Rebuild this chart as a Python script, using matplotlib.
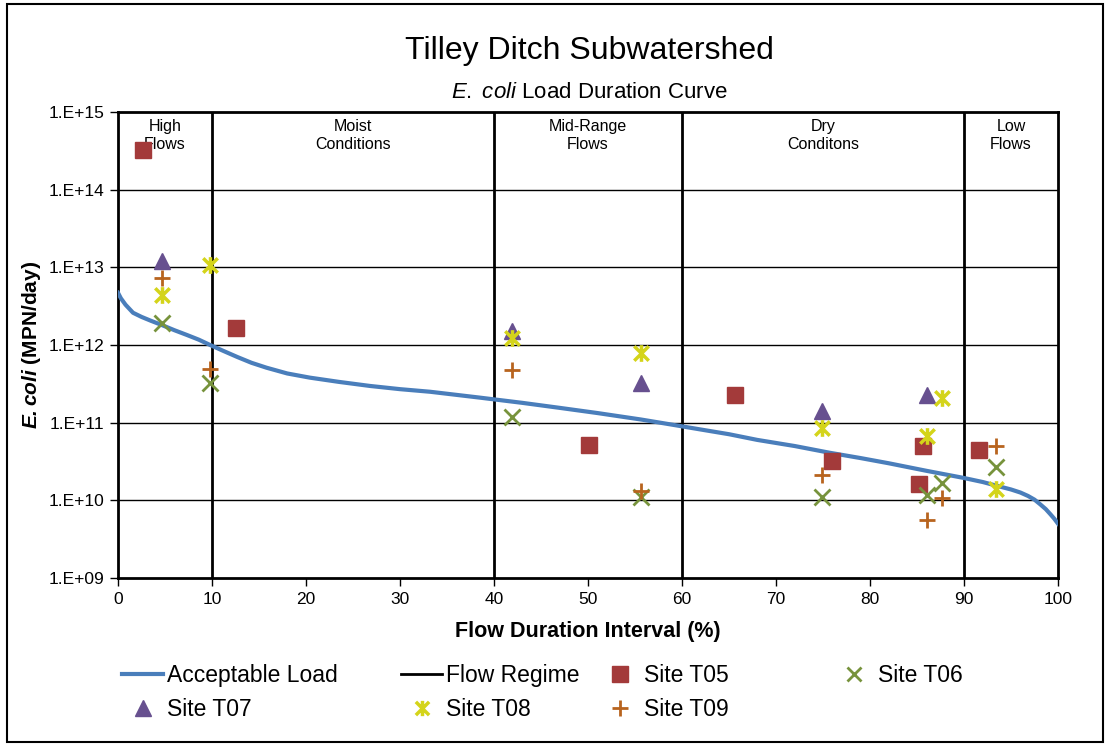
import matplotlib
matplotlib.use('Agg')

import numpy as np
import matplotlib.pyplot as plt
from matplotlib.lines import Line2D
from matplotlib.patches import Rectangle
from matplotlib.path import Path

plt.rcParams['font.family'] = ['Liberation Sans', 'DejaVu Sans']
plt.rcParams['mathtext.fontset'] = 'custom'
plt.rcParams['mathtext.rm'] = 'Liberation Sans'
plt.rcParams['mathtext.it'] = 'Liberation Sans:italic'
plt.rcParams['mathtext.bf'] = 'Liberation Sans:bold'
plt.rcParams['mathtext.bfit'] = 'Liberation Sans:bold:italic'

# acceptable load curve
curve_x = [0, 0.3, 0.8, 1.6, 2.5, 3.5, 4.7, 6.0, 7.3, 8.6, 9.8, 11.2, 12.7, 14.2, 15.8,
           18.0, 20.4, 23.5, 26.8, 30.0, 33.2, 38.5, 43, 47, 51, 55.6, 59, 61.9, 65,
           68, 72, 75.7, 79, 82, 86, 89.9, 92, 93.4, 95, 96, 96.8, 97.5, 98.1, 98.7,
           99.2, 99.6, 100]
curve_y = [4.7e12, 4.0e12, 3.3e12, 2.6e12, 2.3e12, 2.05e12, 1.8e12, 1.55e12, 1.35e12,
           1.17e12, 1.0e12, 8.4e11, 7.0e11, 5.9e11, 5.1e11, 4.3e11, 3.8e11, 3.35e11,
           2.97e11, 2.7e11, 2.5e11, 2.1e11, 1.8e11, 1.55e11, 1.33e11, 1.1e11, 9.4e10,
           8.2e10, 7.1e10, 6.0e10, 5.0e10, 4.1e10, 3.5e10, 3.0e10, 2.4e10, 1.95e10,
           1.72e10, 1.55e10, 1.38e10, 1.26e10, 1.14e10, 1.02e10, 8.9e9, 7.7e9,
           6.6e9, 5.8e9, 5.0e9]

regime_x = [10, 40, 60, 90]
regime_labels = ['High\nFlows', 'Moist\nConditions', 'Mid-Range\nFlows', 'Dry\nConditons', 'Low\nFlows']
regime_label_x = [5, 25, 50, 75, 95]

t05_x = [2.7, 12.5, 50.1, 65.6, 76.0, 85.6, 85.2, 91.6]
t05_y = [3.2e14, 1.66e12, 5.2e10, 2.3e11, 3.2e10, 5.0e10, 1.63e10, 4.5e10]

t06_x = [4.7, 9.8, 41.9, 55.6, 74.9, 86.1, 87.7, 93.4]
t06_y = [1.9e12, 3.2e11, 1.17e11, 1.1e10, 1.1e10, 1.17e10, 1.66e10, 2.7e10]

t07_x = [4.7, 41.9, 55.6, 74.9, 86.1]
t07_y = [1.2e13, 1.5e12, 3.2e11, 1.4e11, 2.3e11]

t08_x = [4.7, 9.8, 41.9, 55.6, 74.9, 86.1, 87.7, 93.4]
t08_y = [4.4e12, 1.07e13, 1.23e12, 7.8e11, 8.6e10, 6.8e10, 2.1e11, 1.4e10]

t09_x = [4.7, 9.8, 41.9, 55.6, 74.9, 86.1, 87.7, 93.4]
t09_y = [7.3e12, 4.9e11, 4.8e11, 1.3e10, 2.1e10, 5.6e9, 1.07e10, 5.0e10]

# excel style star: an x with a vertical bar
star = Path([(-1, -1), (1, 1), (-1, 1), (1, -1), (0, -1.15), (0, 1.15)],
            [Path.MOVETO, Path.LINETO, Path.MOVETO, Path.LINETO, Path.MOVETO, Path.LINETO])

c_al = '#4A7EBB'
c05 = '#A33A3A'
c06 = '#77933C'
c07 = '#67508F'
c08 = '#D4D41A'
c09 = '#B8641E'

fig = plt.figure(figsize=(11.08, 7.44), dpi=100)
ax = fig.add_axes([0.1065, 0.2231, 0.8484, 0.6264])

ax.set_yscale('log')
ax.set_xlim(0, 100)
ax.set_ylim(1e9, 1e15)

for d in range(10, 15):
    ax.axhline(10.0 ** d, color='black', lw=1.0, zorder=1)
for xv in regime_x:
    ax.axvline(xv, color='black', lw=2.0, zorder=2)
for xv, lab in zip(regime_label_x, regime_labels):
    ax.text(xv, 8.0e14, lab, ha='center', va='top', fontsize=11.5, linespacing=1.25, zorder=3)

ax.plot(curve_x, curve_y, color=c_al, lw=3.0, zorder=3)

ax.plot(t05_x, t05_y, 's', color=c05, ms=11, ls='none', zorder=4)
ax.plot(t06_x, t06_y, 'x', color=c06, ms=11, mew=2.0, ls='none', zorder=4)
ax.plot(t07_x, t07_y, '^', color=c07, ms=12, ls='none', zorder=4)
ax.plot(t08_x, t08_y, marker=star, color=c08, mfc='none', ms=12, mew=2.5, ls='none', zorder=4)
ax.plot(t09_x, t09_y, '+', color=c09, ms=11, mew=2.0, ls='none', zorder=4)

for s in ax.spines.values():
    s.set_linewidth(2.0)
    s.set_color('black')

ax.set_yticks([10.0 ** d for d in range(9, 16)])
ax.set_yticklabels(['1.E+%02d' % d for d in range(9, 16)])
ax.yaxis.set_minor_locator(matplotlib.ticker.NullLocator())
ax.set_xticks(range(0, 101, 10))
ax.tick_params(axis='both', direction='out', length=6, width=1, labelsize=12.5, pad=4)

ax.set_xlabel('Flow Duration Interval (%)', fontsize=15.5, fontweight='bold', labelpad=10)
ax.set_ylabel(r'$\mathbfit{E.coli}$ (MPN/day)', fontsize=15, fontweight='bold', labelpad=4)

fig.text(0.532, 0.932, 'Tilley Ditch Subwatershed', ha='center', va='center', fontsize=23)
fig.text(0.532, 0.876, r'$\mathit{E.\ coli}$ Load Duration Curve', ha='center', va='center', fontsize=16)

h_al = Line2D([], [], color=c_al, lw=3.0)
h_fr = Line2D([], [], color='black', lw=2.0)
h05 = Line2D([], [], marker='s', color=c05, ms=11, ls='none')
h06 = Line2D([], [], marker='x', color=c06, ms=10, mew=2.0, ls='none')
h07 = Line2D([], [], marker='^', color=c07, ms=12, ls='none')
h08 = Line2D([], [], marker=star, color=c08, mfc='none', ms=11, mew=2.5, ls='none')
h09 = Line2D([], [], marker='+', color=c09, ms=11, mew=2.0, ls='none')

# one legend per column, placed like the excel layout
legend_cols = [([h_al, h07], ['Acceptable Load', 'Site T07'], 0.110),
               ([h_fr, h08], ['Flow Regime', 'Site T08'], 0.362),
               ([h05, h09], ['Site T05', 'Site T09'], 0.541),
               ([h06], ['Site T06'], 0.7525)]
for hs, ls_, x0 in legend_cols:
    leg = fig.legend(hs, ls_, loc='upper left', bbox_to_anchor=(x0, 0.107), ncol=1,
                     frameon=False, fontsize=16.5, handlelength=1.8, handletextpad=0.15,
                     labelspacing=0.45, borderaxespad=0, borderpad=0)

fig.add_artist(Rectangle((0.0065, 0.003), 0.989, 0.992, transform=fig.transFigure,
                         fill=False, edgecolor='black', lw=1.5))

fig.savefig('out.png', dpi=100)
